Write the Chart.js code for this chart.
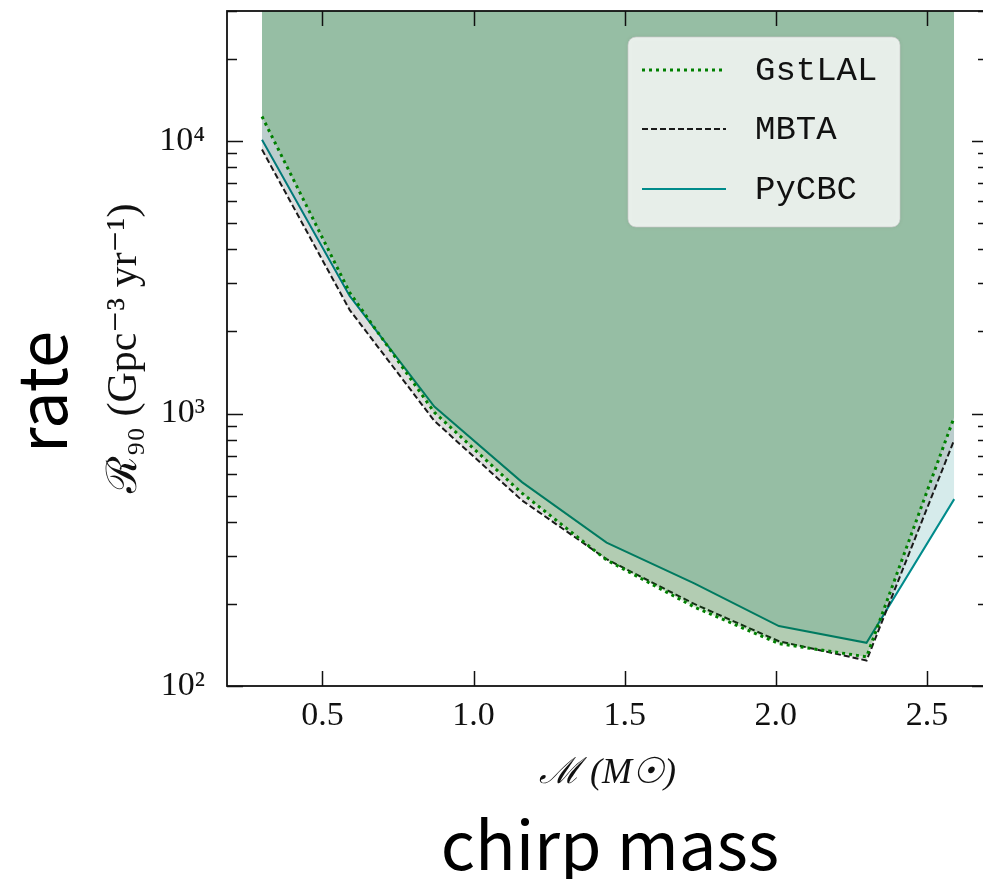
<!DOCTYPE html>
<html><head><meta charset="utf-8">
<script src="https://cdn.jsdelivr.net/npm/chart.js@4"></script>
<style>html,body{margin:0;padding:0;background:#fff;overflow:hidden}#wrap{position:relative;width:992px;height:879px}</style>
</head><body><div id="wrap"><canvas id="c" width="992" height="879"></canvas></div>
<script>
// ---- data ----
const xMass  = [0.30, 0.59, 0.87, 1.16, 1.44, 1.73, 2.01, 2.30, 2.59];
const gstlal = [12300, 2780, 1010, 510, 290, 195, 143, 128, 970];
const mbta   = [9300, 2400, 940, 480, 292, 200, 146, 124, 800];
const pycbc  = [10100, 2700, 1060, 560, 336, 238, 166, 144, 485];
const seriesNames = ['GstLAL', 'MBTA', 'PyCBC'];
const xTickValues = [0.5, 1.0, 1.5, 2.0, 2.5];
const xTickLabels = ['0.5', '1.0', '1.5', '2.0', '2.5'];
const yTickValues = [100, 1000, 10000];
const yTickLabels = ['10²', '10³', '10⁴'];
const xTitle = 'ℳ (M☉)';
const yTitle = 'ℛ₉₀ (Gpc⁻³ yr⁻¹)';
const sideNote = 'rate';
const bottomNote = 'chirp mass';

const pts = ys => xMass.map((x, i) => ({x: x, y: ys[i]}));

const frameTicks = {
  id: 'frameTicks',
  afterDatasetsDraw(chart) {
    const {ctx, chartArea: a, scales: {x, y}} = chart;
    ctx.save();
    ctx.strokeStyle = '#111';
    ctx.lineWidth = 1.5;
    ctx.setLineDash([]);
    ctx.beginPath();
    xTickValues.forEach(v => {
      const px = Math.round(x.getPixelForValue(v)) + 0.5;
      ctx.moveTo(px, a.bottom); ctx.lineTo(px, a.bottom - 15);
      ctx.moveTo(px, a.top); ctx.lineTo(px, a.top + 15);
    });
    for (let d = 100; d <= 10000; d *= 10) {
      for (let m = 1; m <= 9; m++) {
        const v = d * m;
        if (v < y.min || v > y.max) continue;
        const py = Math.round(y.getPixelForValue(v)) + 0.5;
        const len = m === 1 ? 16 : 10;
        ctx.moveTo(a.left, py); ctx.lineTo(a.left + len, py);
        ctx.moveTo(a.right, py); ctx.lineTo(a.right - len, py);
      }
    }
    ctx.stroke();
    ctx.lineWidth = 1.8;
    ctx.strokeRect(a.left, a.top, a.right - a.left, a.bottom - a.top);
    ctx.restore();
  },
  afterDraw(chart) {
    const ctx = chart.ctx;
    ctx.save();
    const bx = 628, by = 37, bw = 272, bh = 190, r = 8;
    ctx.beginPath();
    ctx.moveTo(bx + r, by);
    ctx.arcTo(bx + bw, by, bx + bw, by + bh, r);
    ctx.arcTo(bx + bw, by + bh, bx, by + bh, r);
    ctx.arcTo(bx, by + bh, bx, by, r);
    ctx.arcTo(bx, by, bx + bw, by, r);
    ctx.closePath();
    ctx.shadowColor = 'rgba(0,0,0,0.12)';
    ctx.shadowBlur = 4;
    ctx.fillStyle = 'rgba(255,255,255,0.8)';
    ctx.fill();
    ctx.shadowColor = 'transparent';
    ctx.strokeStyle = 'rgba(200,200,200,0.7)';
    ctx.lineWidth = 1;
    ctx.stroke();
    const rows = [70, 129, 189];
    chart.data.datasets.forEach((ds, i) => {
      const yy = rows[i];
      ctx.beginPath();
      ctx.strokeStyle = ds.borderColor;
      ctx.lineWidth = ds.borderWidth;
      ctx.setLineDash(ds.borderDash || []);
      ctx.lineCap = 'butt';
      ctx.moveTo(642, yy); ctx.lineTo(726, yy);
      ctx.stroke();
      ctx.setLineDash([]);
      ctx.fillStyle = '#111';
      ctx.font = '34px "Liberation Mono", monospace';
      ctx.textBaseline = 'middle';
      ctx.textAlign = 'left';
      ctx.fillText(ds.label, 755, yy + 1);
    });
    ctx.fillStyle = '#000';
    ctx.font = '67px "Noto Sans CJK KR", "Noto Sans", sans-serif';
    ctx.textAlign = 'center';
    ctx.textBaseline = 'alphabetic';
    ctx.fillText(bottomNote, 610, 870);
    ctx.translate(67, 392);
    ctx.rotate(-Math.PI / 2);
    ctx.fillText(sideNote, 0, 0);
    ctx.restore();
  }
};

new Chart(document.getElementById('c'), {
  type: 'line',
  data: {
    datasets: [
      {label: seriesNames[0], data: pts(gstlal), borderColor: '#008000', borderWidth: 3,
       borderDash: [3, 4], borderCapStyle: 'butt', fill: 'end', backgroundColor: 'rgba(0,128,0,0.2)',
       pointRadius: 0, tension: 0},
      {label: seriesNames[1], data: pts(mbta), borderColor: '#1a1a1a', borderWidth: 2,
       borderDash: [6, 3], fill: 'end', backgroundColor: 'rgba(0,0,0,0.13)',
       pointRadius: 0, tension: 0},
      {label: seriesNames[2], data: pts(pycbc), borderColor: '#008b8b', borderWidth: 2,
       fill: 'end', backgroundColor: 'rgba(0,128,128,0.16)',
       pointRadius: 0, tension: 0}
    ]
  },
  options: {
    responsive: false,
    devicePixelRatio: 1,
    animation: false,
    layout: {padding: {top: 11, right: 4, left: 0, bottom: 0}},
    plugins: {legend: {display: false}, tooltip: {enabled: false}},
    scales: {
      x: {
        type: 'linear', min: 0.1842, max: 2.7018,
        afterBuildTicks: s => { s.ticks = xTickValues.map(v => ({value: v})); },
        afterFit: s => { s.height = 193; s.paddingLeft = 0; s.paddingRight = 0; },
        grid: {display: false, drawTicks: false},
        border: {display: false},
        ticks: {
          callback: (v, i) => xTickLabels[i],
          autoSkip: false, maxRotation: 0, padding: 10, color: '#111',
          font: {family: '"Liberation Serif", serif', size: 34}
        },
        title: {display: true, text: xTitle, color: '#111',
          font: {family: '"Liberation Serif", "DejaVu Serif", serif', size: 36, style: 'italic'},
          padding: {top: 0, bottom: 84}}
      },
      y: {
        type: 'logarithmic', min: 100, max: 30000,
        afterBuildTicks: s => { s.ticks = yTickValues.map(v => ({value: v})); },
        afterFit: s => { s.width = 227; s.paddingTop = 0; s.paddingBottom = 0; },
        grid: {display: false, drawTicks: false},
        border: {display: false},
        ticks: {
          callback: (v, i) => yTickLabels[i],
          autoSkip: false, padding: 22, color: '#111',
          font: {family: '"Liberation Serif", serif', size: 34}
        },
        title: {display: true, text: yTitle, color: '#111',
          font: {family: '"Liberation Serif", "DejaVu Serif", serif', size: 42},
          padding: {top: 100, bottom: 0}}
      }
    }
  },
  plugins: [frameTicks]
});
</script>
</body></html>
